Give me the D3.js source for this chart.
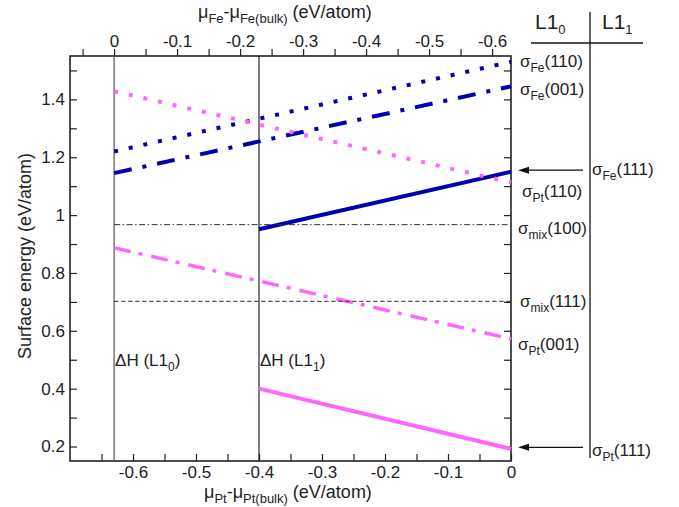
<!DOCTYPE html>
<html>
<head>
<meta charset="utf-8">
<script src="https://cdn.jsdelivr.net/npm/d3@7"></script>
<style>
  body { margin: 0; background: #fff; }
  text { font-family: "Liberation Sans", Arial, Helvetica, sans-serif; fill: #222; }
</style>
</head>
<body>
<div id="container"></div>
<script>
/* CONSTANTS AND GLOBALS */
const width = 679,
  height = 507,
  margin = { top: 56, bottom: 46, left: 70, right: 168 };

/* DATA (eV/atom) */
const dH_L10 = -0.63;   // formation enthalpy of L1_0
const dH_L11 = -0.40;   // formation enthalpy of L1_1

const lineNames = ["Fe(110)", "Fe(001)", "Fe(111)", "Pt(110)", "Pt(001)", "Pt(111)", "mix(100)", "mix(111)"];
const lineXStart = [dH_L10, dH_L10, dH_L11, dH_L10, dH_L10, dH_L11, dH_L10, dH_L10];
const lineXEnd = [0, 0, 0, 0, 0, 0, 0, 0];
const lineYStart = [1.22, 1.145, 0.951, 1.428, 0.887, 0.400, 0.967, 0.702];
const lineYEnd = [1.53, 1.445, 1.150, 1.113, 0.572, 0.192, 0.967, 0.702];

const xTicks = [-0.65, -0.6, -0.55, -0.5, -0.45, -0.4, -0.35, -0.3, -0.25, -0.2, -0.15, -0.1, -0.05, 0];
const topTicks = [0.05, 0, -0.05, -0.1, -0.15, -0.2, -0.25, -0.3, -0.35, -0.4, -0.45, -0.5, -0.55, -0.6];
const yTicks = [0.2, 0.3, 0.4, 0.5, 0.6, 0.7, 0.8, 0.9, 1.0, 1.1, 1.2, 1.3, 1.4, 1.5];

/* STYLES */
const blue = "#0000b0", pink = "#ff66ff";
const styles = {
  "Fe(110)": { color: blue, w: 4, dash: "4,11" },
  "Fe(001)": { color: blue, w: 4, dash: "18,11,4,11" },
  "Fe(111)": { color: blue, w: 4, dash: null },
  "Pt(110)": { color: pink, w: 4, dash: "4,11" },
  "Pt(001)": { color: pink, w: 3.5, dash: "17,8,4,9" },
  "Pt(111)": { color: pink, w: 4, dash: null },
  "mix(100)": { color: "#333", w: 1, dash: "6,2.5,1.5,2.5" },
  "mix(111)": { color: "#333", w: 1, dash: "4.5,2.5" }
};

const svg = d3.select("#container")
  .append("svg")
  .attr("width", width)
  .attr("height", height);

/* SCALES */
const x = d3.scaleLinear().domain([-0.7, 0]).range([margin.left, width - margin.right]);
const xTop = d3.scaleLinear().domain([dH_L10 + 0.7, dH_L10]).range([margin.left, width - margin.right]);
const y = d3.scaleLinear().domain([0.15, 1.55]).range([height - margin.bottom, margin.top]);

const fmt = v => {
  const r = Math.round(v * 100);
  return r % 10 === 0 ? String(r / 100) : "";
};

/* AXES */
const axisStyle = g => {
  g.select(".domain").remove();
  g.selectAll("line").attr("stroke", "#222").attr("stroke-width", 1.2);
  g.selectAll("text").attr("font-size", 17).attr("fill", "#222")
    .style("font-family", '"Liberation Sans", Arial, sans-serif');
};

svg.append("g")
  .attr("transform", `translate(0,${height - margin.bottom})`)
  .call(d3.axisBottom(x).tickValues(xTicks).tickFormat(fmt).tickSize(-7).tickSizeOuter(0).tickPadding(5))
  .call(axisStyle);

svg.append("g")
  .attr("transform", `translate(0,${margin.top})`)
  .call(d3.axisTop(xTop).tickValues(topTicks).tickFormat(fmt).tickSize(7).tickSizeOuter(0).tickPadding(2))
  .call(axisStyle);

svg.append("g")
  .attr("transform", `translate(${margin.left},0)`)
  .call(d3.axisLeft(y).tickValues(yTicks)
    .tickFormat(v => { const r = Math.round(v * 10); return r % 2 === 0 ? (r === 10 ? "1" : (r / 10).toFixed(1)) : ""; })
    .tickSize(-7).tickSizeOuter(0).tickPadding(5))
  .call(axisStyle);

svg.append("g")
  .attr("transform", `translate(${width - margin.right},0)`)
  .call(d3.axisRight(y).tickValues(yTicks).tickFormat("").tickSize(-7).tickSizeOuter(0))
  .call(axisStyle);

// FRAME
svg.append("rect")
  .attr("x", x.range()[0]).attr("y", y.range()[1])
  .attr("width", x.range()[1] - x.range()[0])
  .attr("height", y.range()[0] - y.range()[1])
  .attr("fill", "none").attr("stroke", "#222").attr("stroke-width", 1.6);

// FORMATION ENTHALPY LINES
svg.selectAll("line.dh")
  .data([dH_L10, dH_L11])
  .join("line")
  .attr("class", "dh")
  .attr("x1", d => x(d)).attr("x2", d => x(d))
  .attr("y1", y.range()[1]).attr("y2", y.range()[0])
  .attr("stroke", (d, i) => i === 0 ? "#444" : "#111")
  .attr("stroke-width", 1.1);

// SURFACE ENERGY LINES
svg.selectAll("line.series")
  .data(lineNames)
  .join("line")
  .attr("class", "series")
  .attr("x1", (d, i) => x(lineXStart[i]))
  .attr("x2", (d, i) => x(lineXEnd[i]))
  .attr("y1", (d, i) => y(lineYStart[i]))
  .attr("y2", (d, i) => y(lineYEnd[i]))
  .attr("stroke", d => styles[d].color)
  .attr("stroke-width", d => styles[d].w)
  .attr("stroke-dasharray", d => styles[d].dash);

/* TEXT WITH SUBSCRIPTS */
function subText(xp, yp, parts, size, subSize) {
  const t = svg.append("text").attr("x", xp).attr("y", yp).attr("font-size", size);
  let shift = 0;
  parts.forEach(p => {
    const s = p[1] ? 5 : 0;
    t.append("tspan")
      .attr("dy", s - shift)
      .attr("font-size", p[1] ? subSize : size)
      .text(p[0]);
    shift = s;
  });
  return t;
}

// ΔH labels
subText(x(dH_L10) + 1, 366, [["ΔH (L1"], ["0", 1], [")"]], 17, 12);
subText(x(dH_L11) + 1, 366, [["ΔH (L1"], ["1", 1], [")"]], 17, 12);

// right side labels
const labels = [
  { sub: "Fe", tail: "(110)", x: 520, y: 67 },
  { sub: "Fe", tail: "(001)", x: 520, y: 95 },
  { sub: "Fe", tail: "(111)", x: 592, y: 175 },
  { sub: "Pt", tail: "(110)", x: 522, y: 197 },
  { sub: "mix", tail: "(100)", x: 518, y: 234 },
  { sub: "mix", tail: "(111)", x: 520, y: 307 },
  { sub: "Pt", tail: "(001)", x: 518, y: 350 },
  { sub: "Pt", tail: "(111)", x: 592, y: 456 }
];
labels.forEach(l => subText(l.x, l.y, [["σ"], [l.sub, 1], [l.tail]], 17, 12));

// arrows to (111) surfaces
[lineYEnd[2], lineYEnd[5]].forEach(v => {
  const yp = y(v) - 1.5;
  svg.append("line").attr("x1", 583).attr("x2", 524).attr("y1", yp).attr("y2", yp)
    .attr("stroke", "#111").attr("stroke-width", 1.3);
  svg.append("path")
    .attr("d", `M518,${yp}L529,${yp - 3.5}L529,${yp + 3.5}Z`)
    .attr("fill", "#111");
});

// structure table
svg.append("line").attr("x1", 590).attr("x2", 590).attr("y1", 12).attr("y2", 458)
  .attr("stroke", "#111").attr("stroke-width", 1.3);
svg.append("line").attr("x1", 531).attr("x2", 643).attr("y1", 43).attr("y2", 43)
  .attr("stroke", "#111").attr("stroke-width", 1.3);
subText(535, 29, [["L1"], ["0", 1]], 21, 13);
subText(602, 29, [["L1"], ["1", 1]], 21, 13);

/* AXIS TITLES */
svg.append("text")
  .attr("transform", "translate(31,256) rotate(-90)")
  .attr("text-anchor", "middle")
  .attr("font-size", 18)
  .text("Surface energy (eV/atom)");

subText(204, 498, [["μ"], ["Pt", 1], ["-μ"], ["Pt(bulk)", 1], [" (eV/atom)"]], 18, 13);
subText(198, 18, [["μ"], ["Fe", 1], ["-μ"], ["Fe(bulk)", 1], [" (eV/atom)"]], 18, 13);
</script>
</body>
</html>
